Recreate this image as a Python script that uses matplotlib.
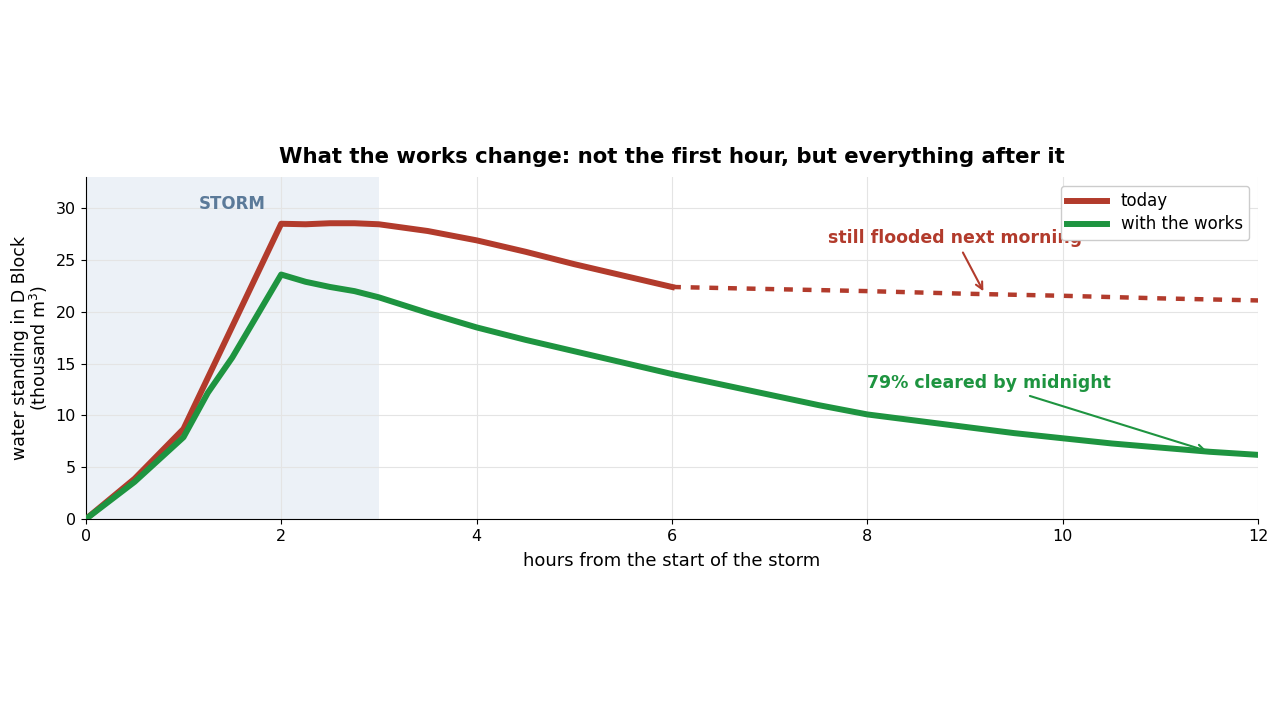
import numpy as np
import matplotlib
matplotlib.use("Agg")
import matplotlib.pyplot as plt

# --- data (thousand m3 of standing water)
hours_today = [0, 0.5, 1, 2, 2.25, 2.5, 2.75, 3, 3.5, 4, 4.5, 5, 5.5, 6]
today = [0, 3.9, 8.7, 28.5, 28.45, 28.55, 28.55, 28.45, 27.8, 26.9, 25.8, 24.6, 23.5, 22.4]

hours_today_proj = [6, 7, 8, 9, 10, 11, 12]
today_proj = [22.4, 22.2, 22.0, 21.75, 21.55, 21.3, 21.1]

hours_works = [0, 0.5, 1, 1.25, 1.5, 2, 2.25, 2.5, 2.75, 3, 3.5, 4, 4.5, 5, 5.5, 6,
               6.5, 7, 7.5, 8, 8.5, 9, 9.5, 10, 10.5, 11, 11.5, 12]
works = [0, 3.6, 7.9, 12.2, 15.6, 23.6, 22.9, 22.4, 22.0, 21.4, 19.9, 18.5, 17.3, 16.2, 15.1, 14.0,
         13.0, 12.0, 11.0, 10.1, 9.5, 8.9, 8.3, 7.8, 7.3, 6.9, 6.5, 6.2]

storm_span = (0, 3)

RED = "#b23b2c"
GREEN = "#1e9440"

fig = plt.figure(figsize=(12.8, 7.2), dpi=100)
ax = fig.add_axes([0.067, 0.279, 0.916, 0.475])

ax.axvspan(*storm_span, color="#dde6f1", alpha=0.55, lw=0, zorder=0)
ax.text(1.5, 30.4, "STORM", color="#5b7a99", fontsize=12, fontweight="bold",
        ha="center", va="center")

ax.plot(hours_today, today, color=RED, lw=4.3, label="today", zorder=3)
ax.plot(hours_today_proj, today_proj, color=RED, lw=3.2, ls=(0, (2, 2.2)), zorder=3)
ax.plot(hours_works, works, color=GREEN, lw=4.3, label="with the works", zorder=3)

ax.annotate("still flooded next morning", xy=(9.2, 21.75), xytext=(7.6, 27.1),
            color=RED, fontsize=12.5, fontweight="bold", ha="left", va="center",
            arrowprops=dict(arrowstyle="->", color=RED, lw=1.5))
ax.annotate("79% cleared by midnight", xy=(11.5, 6.5), xytext=(8.0, 13.1),
            color=GREEN, fontsize=12.5, fontweight="bold", ha="left", va="center",
            arrowprops=dict(arrowstyle="->", color=GREEN, lw=1.5))

ax.set_xlim(0, 12)
ax.set_ylim(0, 33)
ax.set_xticks(range(0, 13, 2))
ax.set_yticks(range(0, 31, 5))
ax.tick_params(labelsize=11.5)
ax.grid(True, color="#e4e4e4", lw=0.8)
ax.set_axisbelow(True)
for s in ["top", "right"]:
    ax.spines[s].set_visible(False)

ax.set_xlabel("hours from the start of the storm", fontsize=13, labelpad=6)
ax.set_ylabel("water standing in D Block\n(thousand m$^3$)", fontsize=12.5, linespacing=0.95)
ax.set_title("What the works change: not the first hour, but everything after it",
             fontsize=15.3, fontweight="bold", pad=10)

ax.legend(loc="upper right", fontsize=12, handlelength=2.4, framealpha=1,
          labelspacing=0.3, borderaxespad=0.0, bbox_to_anchor=(0.9925, 0.975))

fig.savefig("out.png", dpi=100)
